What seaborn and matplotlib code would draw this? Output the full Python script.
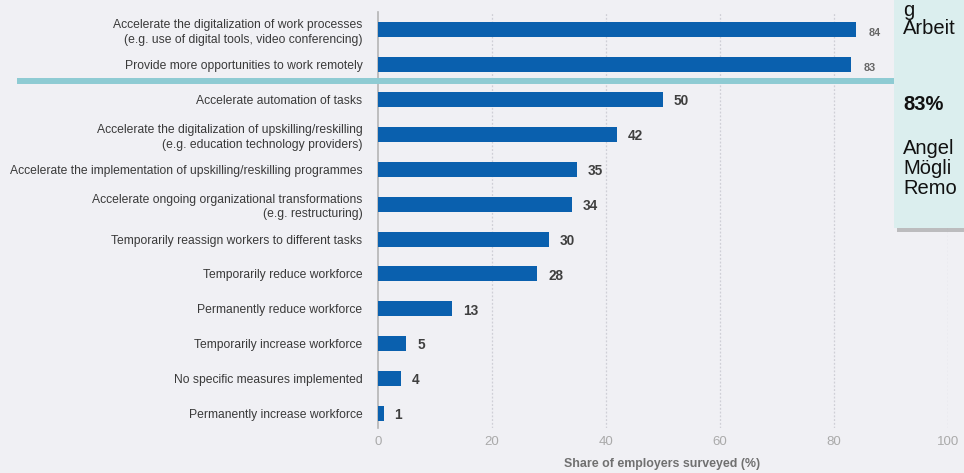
import numpy as np
import pandas as pd
import matplotlib
matplotlib.use('Agg')
import matplotlib.pyplot as plt
import seaborn as sns
from matplotlib.patches import FancyBboxPatch

# ----------------------------
# Data
# ----------------------------
measures = [
    "Accelerate the digitalization of work processes\n(e.g. use of digital tools, video conferencing)",
    "Provide more opportunities to work remotely",
    "Accelerate automation of tasks",
    "Accelerate the digitalization of upskilling/reskilling\n(e.g. education technology providers)",
    "Accelerate the implementation of upskilling/reskilling programmes",
    "Accelerate ongoing organizational transformations\n(e.g. restructuring)",
    "Temporarily reassign workers to different tasks",
    "Temporarily reduce workforce",
    "Permanently reduce workforce",
    "Temporarily increase workforce",
    "No specific measures implemented",
    "Permanently increase workforce",
]
share = [84, 83, 50, 42, 35, 34, 30, 28, 13, 5, 4, 1]
x_ticks = [0, 20, 40, 60, 80, 100]
# callout on the right is cut off by the slide edge: only the visible parts
callout_lines = ["g", "Arbeit"]
callout_value = "83%"
callout_text = ["Angel", "Mögli", "Remo"]

df = pd.DataFrame({"measure": measures, "share": share})

# ----------------------------
# Style
# ----------------------------
bg = "#f0f0f4"
bar_color = "#0a60ae"
sns.set_style("white")
plt.rcParams['font.family'] = ['Liberation Sans', 'DejaVu Sans']

fig = plt.figure(figsize=(9.64, 4.73), dpi=100, facecolor=bg)
ax = fig.add_axes([0.392, 0.095, 0.591, 0.88], facecolor=bg)

sns.barplot(data=df, x="share", y="measure", color=bar_color, saturation=1,
            width=0.43, linewidth=0, ax=ax, zorder=3)

ax.set_xlim(0, 100)
ax.set_ylim(11.42, -0.52)
ax.set_xticks(x_ticks)
ax.set_xticklabels([str(t) for t in x_ticks], color="#aaaaaa", fontsize=9.5)
ax.tick_params(axis='x', length=0, pad=6)
ax.tick_params(axis='y', length=0, pad=11)
for lbl in ax.get_yticklabels():
    lbl.set_fontsize(8.75)
    lbl.set_color("#3a3a3a")
    lbl.set_horizontalalignment('right')
    lbl.set_multialignment('right')
    lbl.set_linespacing(1.3)

for sp in ['top', 'right', 'bottom']:
    ax.spines[sp].set_visible(False)
ax.spines['left'].set_color("#b5b5b5")
ax.spines['left'].set_linewidth(1.2)

for t in x_ticks[1:]:
    ax.axvline(t, color="#cfcfd6", lw=0.9, ls=(0, (1.5, 1.5)), zorder=1)

ax.set_xlabel("")
ax.set_ylabel("")
fig.text(0.687, 0.006, "Share of employers surveyed (%)", ha='center', va='bottom',
         fontsize=8.9, fontweight='bold', color="#707070")

# value labels
for i, v in enumerate(share):
    small = i < 2
    ax.text(v + (2.2 if small else 1.9), i + (0.08 if small else 0.05), str(v),
            va='center', ha='left',
            fontsize=7.8 if small else 9.8, fontweight='bold',
            color="#666666" if small else "#3f3f3f", zorder=4)

# teal arrow across the chart
fig.add_artist(plt.Line2D([17 / 964, 896 / 964], [1 - 81 / 473, 1 - 81 / 473],
                          transform=fig.transFigure, color="#8ecbd3", lw=4.3,
                          solid_capstyle='butt'))
fig.add_artist(plt.Polygon([[895 / 964, 1 - 74 / 473], [905 / 964, 1 - 81 / 473],
                            [895 / 964, 1 - 88 / 473]], closed=True,
                           transform=fig.transFigure, color="#8ecbd3", lw=0))

# callout box (cut off at the right edge)
shadow = FancyBboxPatch((897 / 964, 1 - 232 / 473), 0.2, 0.6, boxstyle="square,pad=0",
                        transform=fig.transFigure, facecolor="#9a9a9a", edgecolor='none',
                        alpha=0.6, zorder=5)
box = FancyBboxPatch((894 / 964, 1 - 228 / 473), 0.2, 0.6, boxstyle="square,pad=0",
                     transform=fig.transFigure, facecolor="#dbeeee", edgecolor='none',
                     zorder=6)
fig.add_artist(shadow)
fig.add_artist(box)

tx = 903 / 964
fig.text(tx, 1 - 0.5 / 473, "\n".join(callout_lines), fontsize=14.5, color="#111111",
         va='top', linespacing=0.95, zorder=7)
fig.text(tx, 1 - 110 / 473, callout_value, fontsize=14.5, fontweight='bold', color="#111111",
         va='baseline', zorder=7)
for k, line in enumerate(callout_text):
    fig.text(tx, 1 - (154 + 20 * k) / 473, line, fontsize=14.5, color="#111111",
             va='baseline', zorder=7)

fig.savefig("out.png", dpi=100, facecolor=bg)
